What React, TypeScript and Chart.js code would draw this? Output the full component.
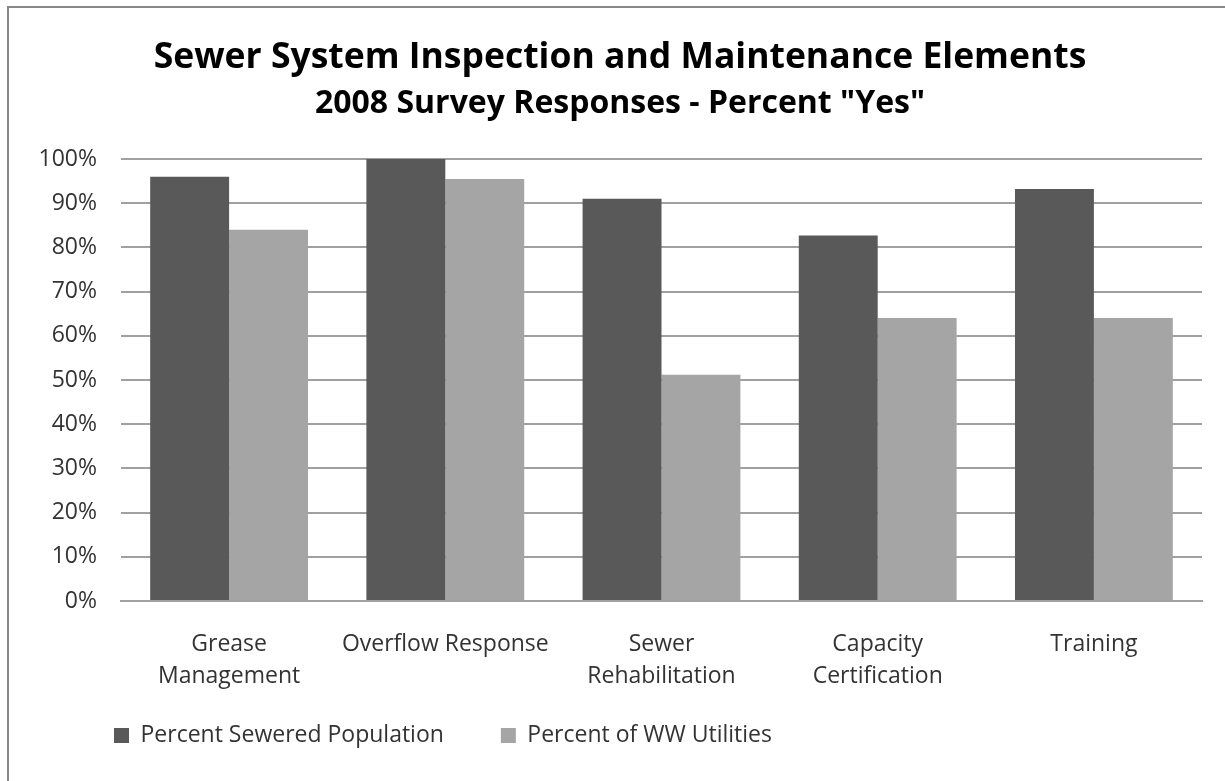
import React, { useEffect, useRef } from "react";
import { Chart, registerables } from "chart.js";

Chart.register(...registerables);

const categories: (string | string[])[] = [
  ["Grease", "Management"],
  "Overflow Response",
  ["Sewer", "Rehabilitation"],
  ["Capacity", "Certification"],
  "Training",
];

const sewerPopulation = [96, 100, 91, 82.7, 93.2];
const wwUtilities = [84, 95.5, 51.2, 64, 64];

const seriesNames = ["Percent Sewered Population", "Percent of WW Utilities"];
const titleText = "Sewer System Inspection and Maintenance Elements";
const subtitleText = '2008 Survey Responses - Percent "Yes"';

const FONT = "'Open Sans', Lato, sans-serif";

// The legend sits in the bottom band, nudged to line up under the axis labels.
const legendOffset = { x: 19, y: -24 };

const legendPlacement = {
  id: "legendPlacement",
  afterLayout(chart: any) {
    const legend = chart.legend;
    if (!legend) return;
    legend.left += legendOffset.x;
    legend.right += legendOffset.x;
    legend.top += legendOffset.y;
    legend.bottom += legendOffset.y;
  },
};

export default function App() {
  const canvasRef = useRef<HTMLCanvasElement | null>(null);

  useEffect(() => {
    document.body.style.margin = "0";
    const canvas = canvasRef.current;
    if (!canvas) return;
    const chart = new Chart(canvas, {
      type: "bar",
      data: {
        labels: categories,
        datasets: [
          {
            label: seriesNames[0],
            data: sewerPopulation,
            backgroundColor: "#595959",
            borderWidth: 0,
          },
          {
            label: seriesNames[1],
            data: wwUtilities,
            backgroundColor: "#a5a5a5",
            borderWidth: 0,
          },
        ],
      },
      plugins: [legendPlacement],
      options: {
        animation: false,
        responsive: false,
        maintainAspectRatio: false,
        layout: { padding: { left: 38, right: 23, top: 0, bottom: 0 } },
        datasets: {
          bar: { barPercentage: 1, categoryPercentage: 0.73 },
        },
        plugins: {
          tooltip: { enabled: false },
          title: {
            display: true,
            text: titleText,
            color: "#000",
            font: { family: FONT, size: 35.5, weight: "bold", lineHeight: 1.2 },
            padding: { top: 37, bottom: 0 },
          },
          subtitle: {
            display: true,
            text: subtitleText,
            color: "#000",
            font: { family: FONT, size: 32, weight: "bold", lineHeight: 1.2 },
            padding: { top: 5, bottom: 36 },
          },
          legend: {
            position: "bottom",
            align: "start",
            labels: {
              boxWidth: 15,
              boxHeight: 15,
              padding: 57,
              color: "#333",
              font: { family: FONT, size: 23, lineHeight: 1 },
            },
          },
        },
        scales: {
          x: {
            grid: { display: false, drawTicks: false },
            border: { display: true, color: "#a0a0a0", width: 2 },
            ticks: {
              color: "#333",
              padding: 28,
              maxRotation: 0,
              autoSkip: false,
              font: { family: FONT, size: 23, lineHeight: 1.38 },
            },
            afterFit: (scale: any) => {
              scale.height = 90;
            },
          },
          y: {
            min: 0,
            max: 100,
            grid: { color: "#a0a0a0", lineWidth: 2, drawTicks: false },
            border: { display: false },
            ticks: {
              stepSize: 10,
              color: "#333",
              padding: 24,
              font: { family: FONT, size: 23 },
              callback: (v: any) => `${v}%`,
            },
            afterFit: (scale: any) => {
              scale.width = 83;
            },
          },
        },
      },
    });
    return () => chart.destroy();
  }, []);

  return (
    <div
      style={{
        position: "fixed",
        left: 0,
        top: 0,
        width: 1225,
        height: 781,
        background: "#fff",
        overflow: "hidden",
      }}
    >
      <canvas
        ref={canvasRef}
        width={1225}
        height={781}
        style={{ position: "absolute", left: 0, top: 0, width: 1225, height: 781 }}
      />
      <div
        style={{
          position: "absolute",
          left: 7,
          top: 6,
          width: 1225,
          height: 781,
          borderTop: "2px solid #878787",
          borderLeft: "2px solid #878787",
          pointerEvents: "none",
        }}
      />
    </div>
  );
}
